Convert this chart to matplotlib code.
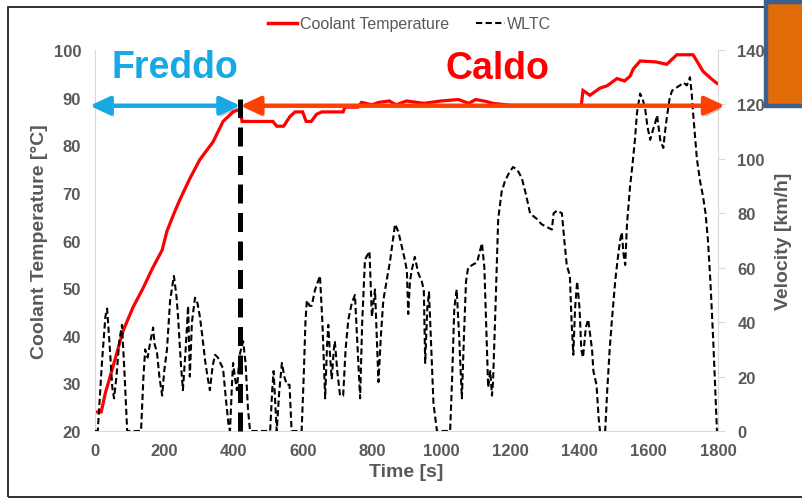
import matplotlib
matplotlib.use("Agg")
import matplotlib.pyplot as plt
import matplotlib.patheffects as pe
from matplotlib.patches import Rectangle
from matplotlib.lines import Line2D

plt.rcParams['font.family'] = ['Liberation Sans', 'DejaVu Sans']

# coolant temperature [°C] vs time [s]
t_temp = [0, 18, 30, 50, 81, 110, 139, 165, 194, 208, 230, 246, 274, 303, 341, 370, 399, 419,
          425, 514, 525, 545, 563, 578, 600, 610, 625, 640, 655, 717, 722, 760, 770, 800, 820,
          850, 870, 900, 950, 1000, 1050, 1080, 1100, 1130, 1150, 1200, 1300, 1405, 1410, 1430,
          1459, 1480, 1508, 1530, 1546, 1555, 1575, 1620, 1652, 1681, 1728, 1757, 1780, 1797]
temp = [24, 24, 28, 33, 41, 46, 50, 54, 58, 62, 66, 68.7, 73, 77, 80.7, 85, 87, 87.6,
        85, 85, 84, 84, 86, 87, 87, 85, 85, 86.5, 87, 87, 88, 88, 89, 88.5, 89,
        89.3, 88.5, 89.3, 88.8, 89.3, 89.6, 88.8, 89.6, 89.2, 88.8, 88.4, 88.4, 88.4, 91.5, 90.5,
        92, 92.5, 94, 93.5, 94.5, 96, 97.7, 97.5, 97, 99, 99, 95.5, 94, 93]

# WLTC velocity [km/h] vs time [s]
t_wltc = [0, 8, 20, 30, 35, 42, 50, 55, 62, 70, 78, 85, 93, 133, 140, 145, 152, 160, 168, 172,
          179, 186, 194, 200, 208, 217, 228, 235, 240, 248, 254, 262, 269, 274, 280, 289, 296,
          303, 310, 318, 325, 332, 340, 347, 355, 362, 370, 378, 386, 390, 396, 399, 404, 410,
          418, 428, 435, 442, 448, 506, 512, 516, 520, 525, 532, 540, 547, 554, 562, 568, 597,
          603, 608, 612, 620, 626, 636, 650, 657, 665, 670, 674, 679, 684, 690, 693, 700, 708,
          717, 724, 732, 742, 751, 757, 766, 772, 780, 793, 800, 809, 814, 819, 826, 833, 845,
          852, 867, 877, 886, 895, 901, 905, 910, 915, 924, 934, 944, 950, 954, 960, 965, 970,
          978, 988, 1026, 1032, 1038, 1045, 1052, 1060, 1066, 1072, 1078, 1090, 1104, 1112,
          1118, 1125, 1130, 1136, 1142, 1147, 1150, 1157, 1165, 1175, 1185, 1197, 1208, 1220,
          1233, 1245, 1257, 1266, 1276, 1290, 1305, 1320, 1325, 1335, 1349, 1356, 1363, 1372,
          1377, 1382, 1387, 1393, 1400, 1405, 1410, 1418, 1425, 1430, 1436, 1440, 1449, 1455,
          1459, 1474, 1480, 1487, 1493, 1503, 1510, 1517, 1522, 1527, 1532, 1537, 1546, 1553,
          1560, 1566, 1575, 1582, 1589, 1596, 1604, 1613, 1618, 1624, 1628, 1633, 1642, 1647,
          1652, 1660, 1667, 1678, 1690, 1700, 1710, 1719, 1724, 1728, 1739, 1748, 1757, 1764,
          1771, 1778, 1786, 1792, 1797]
wltc = [0, 0, 25, 42, 45, 32, 16, 12, 20, 33, 39, 22, 0, 0, 20, 30, 27, 33, 38, 32,
        29, 20, 13, 22, 30, 48, 57, 50, 42, 25, 15, 30, 46, 20, 40, 49, 47,
        42, 35, 26, 20, 15, 24, 28, 27, 25, 23, 12, 2, 0, 18, 25, 20, 15,
        28, 33, 25, 8, 0, 0, 15, 22, 12, 0, 14, 25, 20, 17, 17, 0, 0,
        20, 40, 48, 46, 46, 52, 57, 40, 12, 30, 39, 28, 19, 30, 33, 22, 13,
        13, 30, 41, 47, 50, 35, 12, 40, 63, 66, 42, 52, 35, 18, 35, 48, 57,
        62, 76, 73, 68, 63, 59, 43, 55, 59, 64, 58, 55, 52, 25, 45, 51, 35,
        10, 0, 0, 20, 45, 52, 35, 12, 35, 55, 60, 61, 62, 66,
        69, 60, 40, 16, 22, 13, 18, 45, 78, 88, 92, 95, 97, 96,
        93, 87, 80, 79, 78, 76, 75, 74, 80, 81, 80, 70, 61, 57,
        40, 28, 45, 55, 45, 30, 27, 38, 41, 36, 30, 22, 17, 5,
        0, 0, 15, 30, 40, 55, 63, 70, 73, 65, 61, 76, 90, 98,
        107, 117, 124, 122, 119, 112, 107, 111, 113, 116, 112, 107, 104, 110,
        115, 122, 125, 126, 127, 128, 127, 130, 124, 117, 100, 92, 86, 80,
        70, 55, 34, 15, 0]

x_ticks = list(range(0, 1801, 200))
temp_ticks = list(range(20, 101, 10))
vel_ticks = list(range(0, 141, 20))

grey = '#595959'
axis_grey = '#D9D9D9'
blue = '#18A9E4'
orange = '#FF4100'

fig = plt.figure(figsize=(8.02, 5.02), dpi=100)
ax = fig.add_axes([95/802, 70/502, 623/802, 381/502])
ax2 = ax.twinx()

ax.plot(t_temp, temp, color='#FF0000', lw=2.3, solid_joinstyle='miter')
ax2.plot(t_wltc, wltc, color='black', lw=1.5, dashes=(3, 1.6))

ax.set_xlim(0, 1800)
ax.set_ylim(20, 100)
ax2.set_ylim(0, 140)
ax.set_xticks(x_ticks)
ax.set_yticks(temp_ticks)
ax2.set_yticks(vel_ticks)

for a in (ax, ax2):
    for s in a.spines.values():
        s.set_visible(False)
ax.spines['left'].set_visible(True)
ax.spines['bottom'].set_visible(True)
ax2.spines['right'].set_visible(True)
ax.spines['left'].set_color(axis_grey)
ax.spines['bottom'].set_color(axis_grey)
ax2.spines['right'].set_color(axis_grey)

ax.tick_params(axis='y', length=0, pad=10, labelsize=12, labelcolor=grey)
ax.tick_params(axis='x', length=0, pad=9, labelsize=12, labelcolor=grey)
ax2.tick_params(axis='y', length=5, color=axis_grey, pad=9, labelsize=12, labelcolor=grey)
for lab in ax.get_xticklabels() + ax.get_yticklabels() + ax2.get_yticklabels():
    lab.set_fontweight('bold')

ax.set_xlabel('Time [s]', fontsize=14, fontweight='bold', color=grey, labelpad=3)
ax.set_ylabel('Coolant Temperature [°C]', fontsize=14, fontweight='bold', color=grey, labelpad=4)
ax2.set_ylabel('Velocity [km/h]', fontsize=14, fontweight='bold', color=grey, rotation=90, labelpad=7)

# cold / warm phase markers
v_arrow = (88.3 - 20) * 140 / 80
ax2.plot([420, 420], [0, (89.7 - 20) * 140 / 80], color='black', lw=3.6, dashes=(3.8, 1.9),
         zorder=4, clip_on=False)
shadow = [pe.SimplePatchShadow(offset=(1.5, -2.5), shadow_rgbFace='black', alpha=0.2), pe.Normal()]
for x0, x1, col in [(-15, 420, blue), (420, 1820, orange)]:
    ann = ax2.annotate('', xy=(x1, v_arrow), xytext=(x0, v_arrow),
                       arrowprops=dict(arrowstyle='<|-|>,head_length=0.6,head_width=0.28',
                                       color=col, lw=3.2, mutation_scale=20,
                                       shrinkA=0, shrinkB=0),
                       annotation_clip=False, zorder=5)
    ann.arrow_patch.set_path_effects(shadow)

ax2.text(231, (96.4 - 20) * 140 / 80, 'Freddo', color=blue, fontsize=27, fontweight='bold',
         ha='center', va='center', zorder=6)
ax2.text(1162, (96.2 - 20) * 140 / 80, 'Caldo', color='#FF0000', fontsize=27, fontweight='bold',
         ha='center', va='center', zorder=6)

handles = [Line2D([], [], color='#FF0000', lw=2.5),
           Line2D([], [], color='black', lw=1.5, dashes=(3, 1.6))]
leg = fig.legend(handles, ['Coolant Temperature', 'WLTC'], loc='center', ncol=2,
                 bbox_to_anchor=(0.511, 0.951), frameon=False, fontsize=11.5,
                 handlelength=1.8, handletextpad=0.15, columnspacing=1.7)
for txt in leg.get_texts():
    txt.set_color(grey)

# outer frame and the orange box at the top right
fig.patches.append(Rectangle((8/802, 4/502), 1.0, 490/502, transform=fig.transFigure,
                             fill=False, edgecolor='#222222', lw=1.3))
fig.patches.append(Rectangle((766/802, 395/502), 50/802, 104/502, transform=fig.transFigure,
                             facecolor='#E36C0A', edgecolor='#3D5F8B', lw=3.2))

fig.savefig('out.png', dpi=100)
